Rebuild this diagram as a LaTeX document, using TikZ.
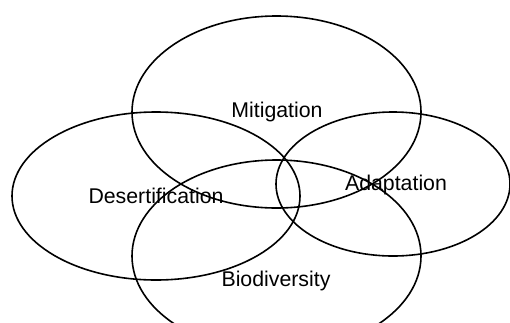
\documentclass[tikz,border=0pt]{standalone}
\usepackage{fontspec}
\setmainfont{Liberation Sans}
\usetikzlibrary{shapes.geometric}

\begin{document}
\begin{tikzpicture}[x=1pt,y=-1pt,
      ring/.style={ellipse, draw=black, line width=1.6pt, inner sep=0pt},
      theme/.style={font=\fontsize{21.3}{25}\selectfont, text=black}]
      \useasboundingbox (0,0) rectangle (510,322);
      \clip (0,0) rectangle (510,322);
      \fill[white] (0,0) rectangle (510,322);

      \node[ring, minimum width=289pt, minimum height=192pt]
        (mitigationRing) at (276.5,112) {};
      \node[ring, minimum width=288pt, minimum height=168pt]
        (desertRing) at (156,196) {};
      \node[ring, minimum width=234pt, minimum height=144pt]
        (adaptRing) at (393,184) {};
      \node[ring, minimum width=289pt, minimum height=192pt]
        (bioRing) at (276.5,256) {};

      \node[theme] (mitigation) at (277,112) {Mitigation};
      \node[theme] (desert) at (156,196) {Desertification};
      \node[theme] (adapt) at (396,185) {Adaptation};
      \node[theme] (bio) at (276,281) {Biodiversity};
    \end{tikzpicture}
\end{document}
